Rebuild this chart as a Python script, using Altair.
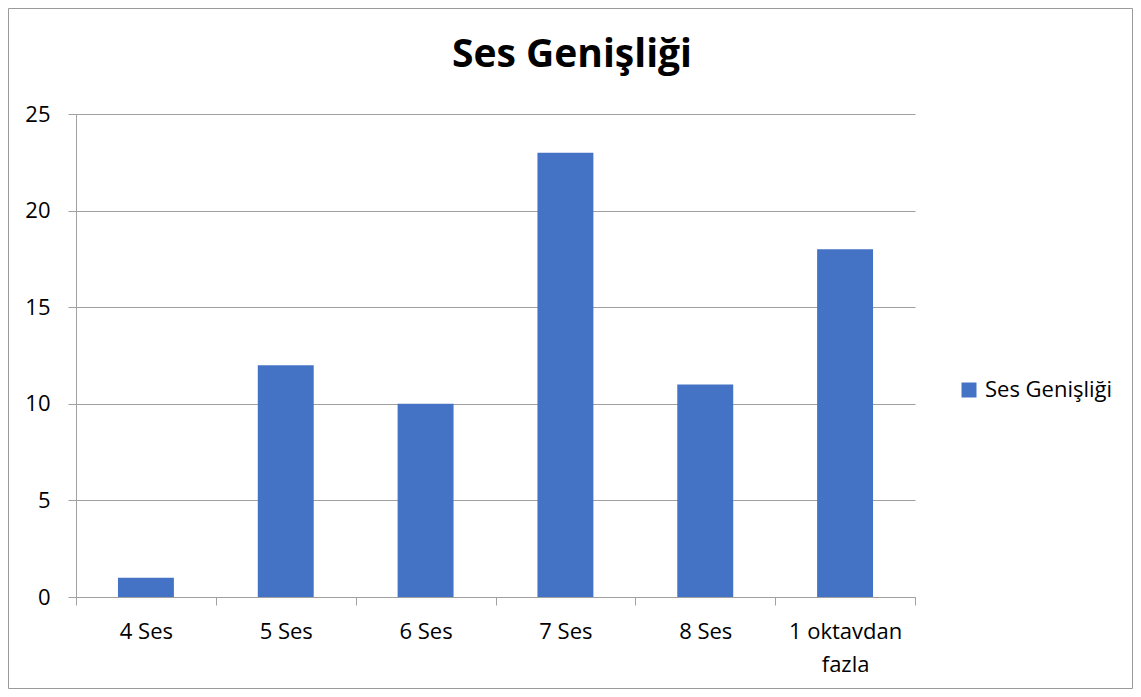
import altair as alt
import pandas as pd

categories = ["4 Ses", "5 Ses", "6 Ses", "7 Ses", "8 Ses", "1 oktavdan fazla"]
values = [1, 12, 10, 23, 11, 18]
series = "Ses Genişliği"
title_text = "Ses Genişliği"

df = pd.DataFrame({"cat": categories, "val": values, "series": [series] * len(categories)})
one = pd.DataFrame({"t": [title_text]})

FONT = "Open Sans"
GRAY = "#a0a0a0"
BLUE = "#4472C4"

bars = alt.Chart(df).mark_bar(width={"band": 0.4}, color=BLUE).encode(
    x=alt.X("cat:N", sort=categories,
            scale=alt.Scale(paddingInner=0, paddingOuter=0),
            axis=alt.Axis(title=None, labelAngle=0, tickBand="extent",
                          labelExpr="datum.label == '1 oktavdan fazla' ? ['1 oktavdan', 'fazla'] : datum.label",
                          labelLineHeight=33, labelPadding=16, tickSize=8,
                          domainColor=GRAY, tickColor=GRAY, labelColor="black",
                          labelFontSize=22, labelFont=FONT, grid=False)),
    y=alt.Y("val:Q", scale=alt.Scale(domain=[0, 25]),
            axis=alt.Axis(title=None, values=[0, 5, 10, 15, 20, 25], tickSize=8,
                          labelPadding=18, domainColor=GRAY, tickColor=GRAY,
                          gridColor=GRAY, labelColor="black", labelFontSize=22,
                          labelFont=FONT)),
    color=alt.Color("series:N", scale=alt.Scale(range=[BLUE]),
                    legend=alt.Legend(title=None, orient="none", legendX=882, legendY=265,
                                      symbolType="square", symbolSize=225,
                                      symbolStrokeWidth=0, labelFontSize=22,
                                      labelFont=FONT, labelColor="black",
                                      labelOffset=5, padding=0)),
)

frame = alt.Chart(one).mark_rect(
    fill=None, stroke="#9a9a9a", strokeWidth=1
).encode(
    x=alt.value(-67.5), x2=alt.value(1056.5),
    y=alt.value(-105.5), y2=alt.value(574.5),
)

title = alt.Chart(one).mark_text(
    font=FONT, fontSize=39, fontWeight="bold", color="black",
    align="center", baseline="alphabetic"
).encode(
    text="t:N", x=alt.value(496), y=alt.value(-47),
)

chart = alt.layer(frame, title, bars).properties(
    width=839, height=483,
    padding={"left": 68, "top": 106, "right": 218, "bottom": 92},
    autosize=alt.AutoSizeParams(type="none"),
    background="white",
).configure_view(stroke=None)

chart.save("out.html", embed_options={"renderer": "svg", "actions": False})
